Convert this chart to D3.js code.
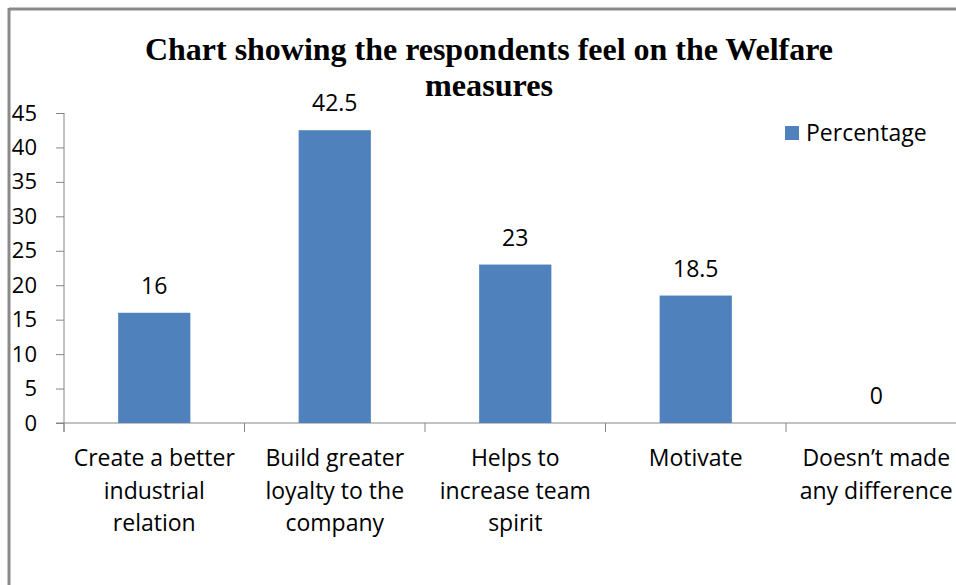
<!DOCTYPE html>
<html>
<head>
<meta charset="utf-8">
<script src="https://cdn.jsdelivr.net/npm/d3@7"></script>
<style>
  html, body { margin: 0; padding: 0; background: #fff; }
  svg { display: block; }
</style>
</head>
<body>
<svg id="chart" width="956" height="585"></svg>
<script>
const titleLines = ["Chart showing the respondents feel on the Welfare", "measures"];
const categories = [
  ["Create a better", "industrial", "relation"],
  ["Build greater", "loyalty to the", "company"],
  ["Helps to", "increase team", "spirit"],
  ["Motivate"],
  ["Doesn\u2019t made", "any difference"]
];
const values = [16, 42.5, 23, 18.5, 0];
const yTicks = [0, 5, 10, 15, 20, 25, 30, 35, 40, 45];
const seriesName = "Percentage";

const svg = d3.select("#chart");
const font = "'Open Sans', Lato, sans-serif";
const axisColor = "#868686";
const barColor = "#4F81BD";

// frame
svg.append("line").attr("x1", 9).attr("x2", 956).attr("y1", 9).attr("y2", 9)
  .attr("stroke", "#8a8a8a").attr("stroke-width", 3);
svg.append("line").attr("x1", 9).attr("x2", 9).attr("y1", 8).attr("y2", 585)
  .attr("stroke", "#8a8a8a").attr("stroke-width", 3);

const x0 = 64, band = 180.5;
const x = d3.scaleBand().domain(d3.range(categories.length))
  .range([x0, x0 + band * categories.length]).paddingInner(0.6).paddingOuter(0.3);
const y = d3.scaleLinear().domain([0, 45]).range([423, 113]);

// y axis
const gy = svg.append("g").attr("transform", `translate(${x0},0)`)
  .call(d3.axisLeft(y).tickValues(yTicks).tickSize(8).tickPadding(19));
gy.select(".domain").attr("stroke", axisColor).attr("d", `M0,${y(45)}V${y(0) + 9}`);
gy.selectAll(".tick line").attr("stroke", axisColor);
gy.selectAll(".tick text").attr("fill", "#000").attr("font-family", font).attr("font-size", 22);

// x axis
const gx = svg.append("g");
gx.append("line").attr("x1", x0 - 8).attr("x2", 956).attr("y1", y(0)).attr("y2", y(0))
  .attr("stroke", axisColor);
gx.selectAll("line.tk").data(d3.range(categories.length + 1)).join("line").attr("class", "tk")
  .attr("x1", i => x0 + band * i).attr("x2", i => x0 + band * i)
  .attr("y1", y(0)).attr("y2", y(0) + 9).attr("stroke", axisColor);

// bars
svg.selectAll("rect.bar").data(values).join("rect").attr("class", "bar")
  .attr("x", (d, i) => x(i)).attr("width", x.bandwidth())
  .attr("y", d => y(d)).attr("height", d => y(0) - y(d))
  .attr("fill", barColor);

// value labels
svg.selectAll("text.val").data(values).join("text").attr("class", "val")
  .attr("x", (d, i) => x(i) + x.bandwidth() / 2).attr("y", d => y(d) - 19)
  .attr("text-anchor", "middle").attr("font-family", font).attr("font-size", 23)
  .attr("fill", "#000").text(d => d);

// category labels
categories.forEach((lines, i) => {
  const t = svg.append("text").attr("text-anchor", "middle")
    .attr("font-family", font).attr("font-size", 23).attr("fill", "#000");
  lines.forEach((ln, j) => {
    t.append("tspan").attr("x", x(i) + x.bandwidth() / 2).attr("y", 466 + j * 32.5).text(ln);
  });
});

// title
const titleWidths = [688, 128];
svg.selectAll("text.title").data(titleLines).join("text").attr("class", "title")
  .attr("x", 489).attr("y", (d, i) => 60 + i * 36)
  .attr("text-anchor", "middle").attr("font-family", "'Liberation Serif', serif")
  .attr("font-weight", "bold").attr("font-size", 31).attr("fill", "#000")
  .attr("textLength", (d, i) => titleWidths[i]).attr("lengthAdjust", "spacingAndGlyphs")
  .text(d => d);

// legend
svg.append("rect").attr("x", 785).attr("y", 126).attr("width", 14).attr("height", 14).attr("fill", barColor);
svg.append("text").attr("x", 806).attr("y", 141).attr("font-family", font).attr("font-size", 23)
  .attr("fill", "#000").text(seriesName);
</script>
</body>
</html>
